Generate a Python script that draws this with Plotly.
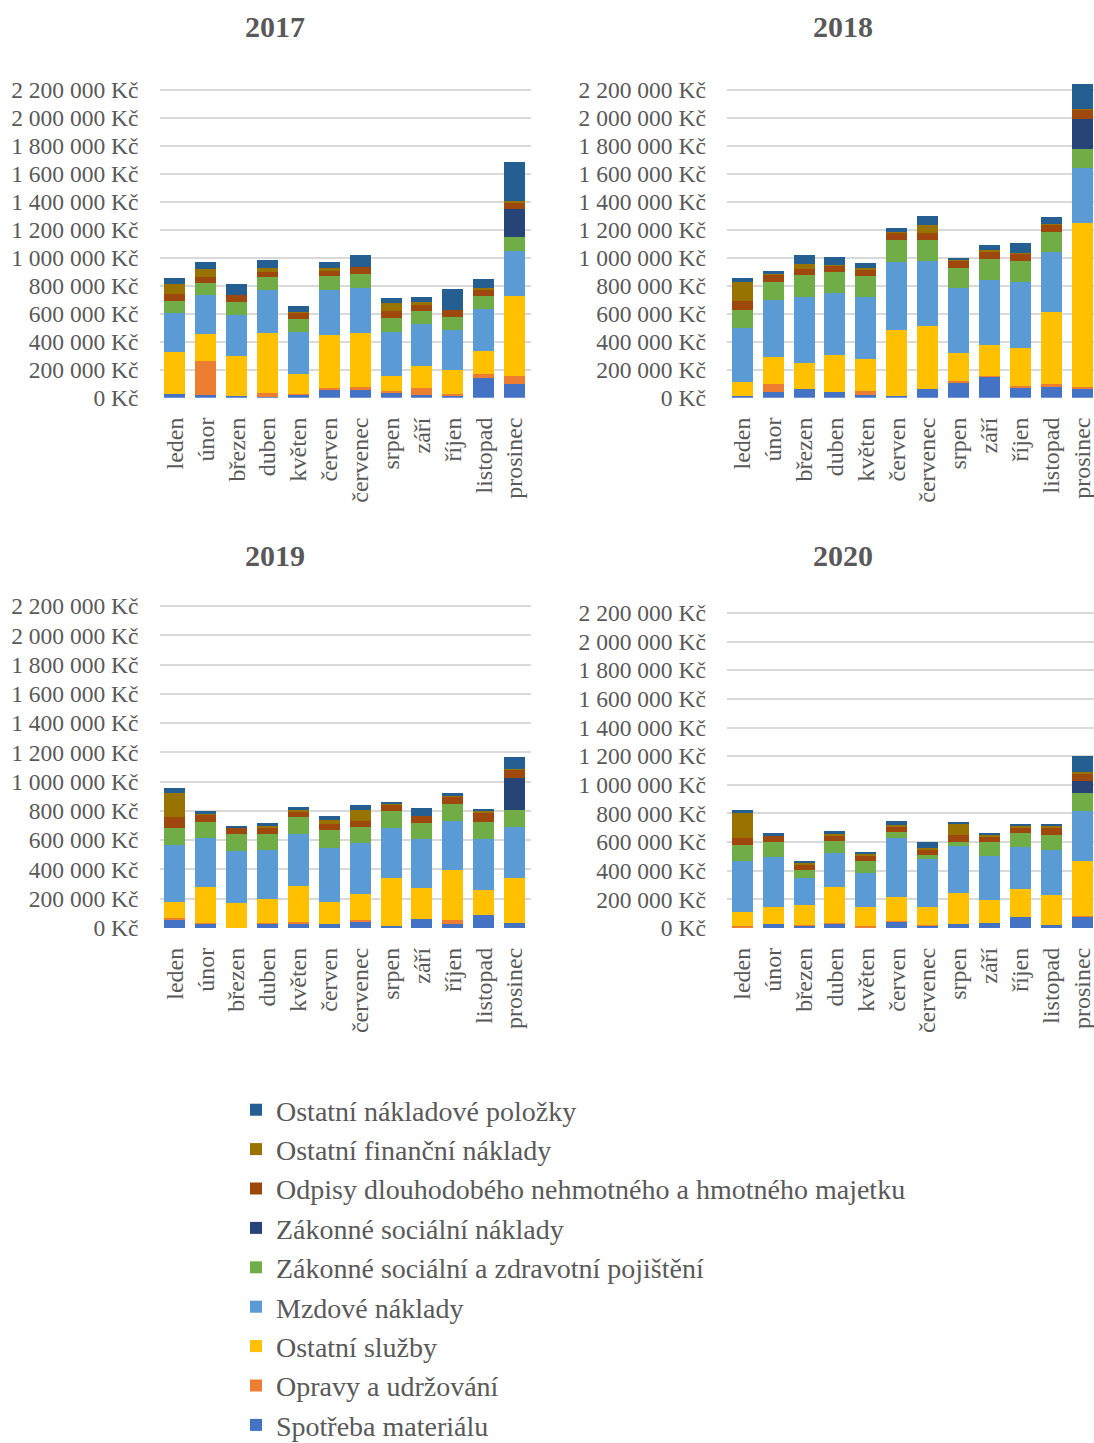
import plotly.graph_objects as go

# ---------------- data (values in thousands of Kč) ----------------
months = ["leden", "únor", "březen", "duben", "květen", "červen",
          "červenec", "srpen", "září", "říjen", "listopad", "prosinec"]

series_names = [
    "Spotřeba materiálu",
    "Opravy a udržování",
    "Ostatní služby",
    "Mzdové náklady",
    "Zákonné sociální a zdravotní pojištění",
    "Zákonné sociální náklady",
    "Odpisy dlouhodobého nehmotného a hmotného majetku",
    "Ostatní finanční náklady",
    "Ostatní nákladové položky",
]

series_colors = ["#4472C4", "#ED7D31", "#FFC000", "#5B9BD5", "#70AD47",
                 "#264478", "#9E480E", "#997300", "#255E91"]

costs_2017 = {
    "Spotřeba materiálu": [26, 19, 12, 5, 26, 62, 62, 40, 19, 14, 140, 98],
    "Opravy a udržování": [0, 243, 0, 28, 3, 7, 14, 8, 50, 12, 29, 57],
    "Ostatní služby": [300, 193, 286, 429, 140, 379, 386, 107, 157, 172, 164, 571],
    "Mzdové náklady": [279, 278, 292, 307, 300, 321, 321, 314, 300, 285, 300, 322],
    "Zákonné sociální a zdravotní pojištění": [85, 86, 93, 93, 93, 100, 100, 100, 93, 93, 93, 100],
    "Zákonné sociální náklady": [0, 0, 0, 0, 0, 0, 0, 0, 0, 0, 0, 200],
    "Odpisy dlouhodobého nehmotného a hmotného majetku": [55, 43, 48, 36, 48, 36, 50, 50, 50, 50, 50, 50],
    "Ostatní finanční náklady": [67, 57, 0, 28, 5, 21, 0, 57, 14, 0, 10, 7],
    "Ostatní nákladové položky": [43, 50, 81, 57, 40, 43, 86, 36, 36, 150, 62, 278],
}

costs_2018 = {
    "Spotřeba materiálu": [14, 43, 64, 43, 21, 14, 64, 107, 150, 71, 79, 64],
    "Opravy a udržování": [0, 57, 0, 0, 29, 0, 0, 14, 7, 15, 21, 15],
    "Ostatní služby": [100, 193, 186, 264, 229, 472, 450, 200, 222, 271, 514, 1171],
    "Mzdové náklady": [386, 407, 471, 443, 442, 485, 465, 465, 464, 472, 429, 393],
    "Zákonné sociální a zdravotní pojištění": [129, 129, 158, 150, 150, 158, 150, 143, 150, 150, 143, 136],
    "Zákonné sociální náklady": [0, 0, 0, 0, 0, 0, 0, 0, 0, 0, 0, 214],
    "Odpisy dlouhodobého nehmotného a hmotného majetku": [64, 50, 42, 43, 43, 50, 50, 50, 50, 50, 50, 64],
    "Ostatní finanční náklady": [136, 7, 36, 7, 15, 7, 57, 7, 14, 7, 7, 7],
    "Ostatní nákladové položky": [28, 21, 64, 57, 35, 28, 64, 14, 36, 71, 50, 179],
}

costs_2019 = {
    "Spotřeba materiálu": [59, 27, 2, 27, 32, 25, 45, 11, 59, 25, 86, 32],
    "Opravy a udržování": [9, 5, 0, 7, 9, 0, 7, 0, 0, 27, 0, 0],
    "Ostatní služby": [107, 248, 166, 161, 245, 150, 178, 328, 211, 341, 171, 307],
    "Mzdové náklady": [389, 338, 355, 335, 353, 375, 354, 341, 341, 341, 348, 354],
    "Zákonné sociální a zdravotní pojištění": [122, 109, 116, 109, 116, 123, 109, 116, 109, 116, 122, 116],
    "Zákonné sociální náklady": [0, 0, 0, 0, 0, 0, 0, 0, 0, 0, 0, 218],
    "Odpisy dlouhodobého nehmotného a hmotného majetku": [69, 48, 45, 45, 43, 41, 41, 47, 48, 48, 62, 55],
    "Ostatní finanční náklady": [170, 7, 5, 16, 7, 27, 75, 7, 0, 7, 7, 7],
    "Ostatní nákladové položky": [34, 16, 11, 20, 25, 27, 34, 14, 55, 20, 20, 82],
}

costs_2020 = {
    "Spotřeba materiálu": [5, 28, 16, 28, 5, 42, 16, 28, 35, 77, 21, 77],
    "Opravy a udržování": [11, 0, 5, 7, 11, 7, 5, 0, 0, 0, 0, 9],
    "Ostatní služby": [95, 118, 139, 250, 130, 167, 125, 216, 160, 194, 209, 380],
    "Mzdové náklady": [355, 348, 188, 237, 237, 410, 334, 327, 306, 293, 313, 348],
    "Zákonné sociální a zdravotní pojištění": [112, 105, 56, 84, 83, 42, 28, 28, 98, 97, 104, 126],
    "Zákonné sociální náklady": [0, 0, 0, 0, 0, 0, 0, 0, 0, 0, 0, 90],
    "Odpisy dlouhodobého nehmotného a hmotného majetku": [48, 44, 41, 41, 42, 42, 35, 48, 41, 42, 56, 49],
    "Ostatní finanční náklady": [174, 5, 7, 10, 7, 7, 14, 77, 7, 7, 7, 9],
    "Ostatní nákladové položky": [21, 13, 14, 18, 14, 28, 42, 14, 14, 14, 14, 116],
}

years = ["2017", "2018", "2019", "2020"]
year_data = [costs_2017, costs_2018, costs_2019, costs_2020]

tick_vals = [0, 200, 400, 600, 800, 1000, 1200, 1400, 1600, 1800, 2000, 2200]
tick_text = ["0 Kč", "200 000 Kč", "400 000 Kč", "600 000 Kč", "800 000 Kč",
             "1 000 000 Kč", "1 200 000 Kč", "1 400 000 Kč", "1 600 000 Kč",
             "1 800 000 Kč", "2 000 000 Kč", "2 200 000 Kč"]

# ---------------- layout geometry (page pixels; body margin removed) ----------------
W, H = 1094, 1443
FONT = "Liberation Serif, Times New Roman, serif"
GREY = "#595959"


def px(v):
    return v / W


def py(v):
    return 1 - v / H


# per panel in page pixels: x-left, x-right, y-bottom, y-top, y-range max
panels = [
    dict(x0=159.5, x1=530.5, yb=397.7, yt=83.0, ymax=2250),
    dict(x0=726.9, x1=1094.0, yb=397.7, yt=83.0, ymax=2250),
    dict(x0=159.5, x1=530.5, yb=928.0, yt=603.1, ymax=2220),
    dict(x0=726.9, x1=1094.0, yb=928.0, yt=610.1, ymax=2220),
]
CAT_W = 30.88
title_pos = [(275, 27), (843, 27), (275, 555), (843, 555)]

fig = go.Figure()
layout = dict(
    width=W, height=H,
    margin=dict(l=0, r=0, t=0, b=0, autoexpand=False),
    paper_bgcolor="white", plot_bgcolor="white",
    barmode="stack", bargap=0.32,
    font=dict(family=FONT, color=GREY),
    showlegend=True,
    legend=dict(
        x=px(236), y=py(1085), xanchor="left", yanchor="top",
        traceorder="normal",
        font=dict(family=FONT, size=28, color=GREY),
        bgcolor="rgba(0,0,0,0)",
    ),
    annotations=[],
)

n = len(series_names)
for i, (yr, data, p) in enumerate(zip(years, year_data, panels)):
    xa = "x" if i == 0 else f"x{i+1}"
    ya = "y" if i == 0 else f"y{i+1}"
    for k, (name, color) in enumerate(zip(series_names, series_colors)):
        fig.add_trace(go.Bar(
            x=months, y=data[name], name=name,
            marker=dict(color=color, line=dict(width=0)),
            xaxis=xa, yaxis=ya,
            legendrank=n - k, showlegend=(i == 0),
        ))
    xkey = "xaxis" if i == 0 else f"xaxis{i+1}"
    ykey = "yaxis" if i == 0 else f"yaxis{i+1}"
    layout[xkey] = dict(
        domain=[px(p["x0"]), px(p["x1"])],
        anchor=ya, type="category",
        range=[-0.5, -0.5 + (p["x1"] - p["x0"]) / CAT_W],
        tickangle=-90, showgrid=False, showline=False, zeroline=False,
        ticks="", ticklabelstandoff=14,
        tickfont=dict(family=FONT, size=24, color=GREY),
    )
    layout[ykey] = dict(
        domain=[py(p["yb"]), py(p["yt"])],
        anchor=xa, range=[0, p["ymax"]],
        tickmode="array", tickvals=tick_vals, ticktext=tick_text,
        showgrid=True, gridcolor="#D9D9D9", gridwidth=1.6,
        zeroline=False, showline=False, ticks="", ticklabelstandoff=20,
        tickfont=dict(family=FONT, size=23.5, color=GREY),
    )
    tx, ty = title_pos[i]
    layout["annotations"].append(dict(
        x=px(tx), y=py(ty), xref="paper", yref="paper",
        text=f"<b>{yr}</b>", showarrow=False,
        xanchor="center", yanchor="middle",
        font=dict(family=FONT, size=30, color=GREY),
    ))

fig.update_layout(**layout)
fig.write_html(
    "out.html",
    config={"displayModeBar": False},
    post_script="document.body.style.margin='0';document.body.style.overflow='hidden';",
)
